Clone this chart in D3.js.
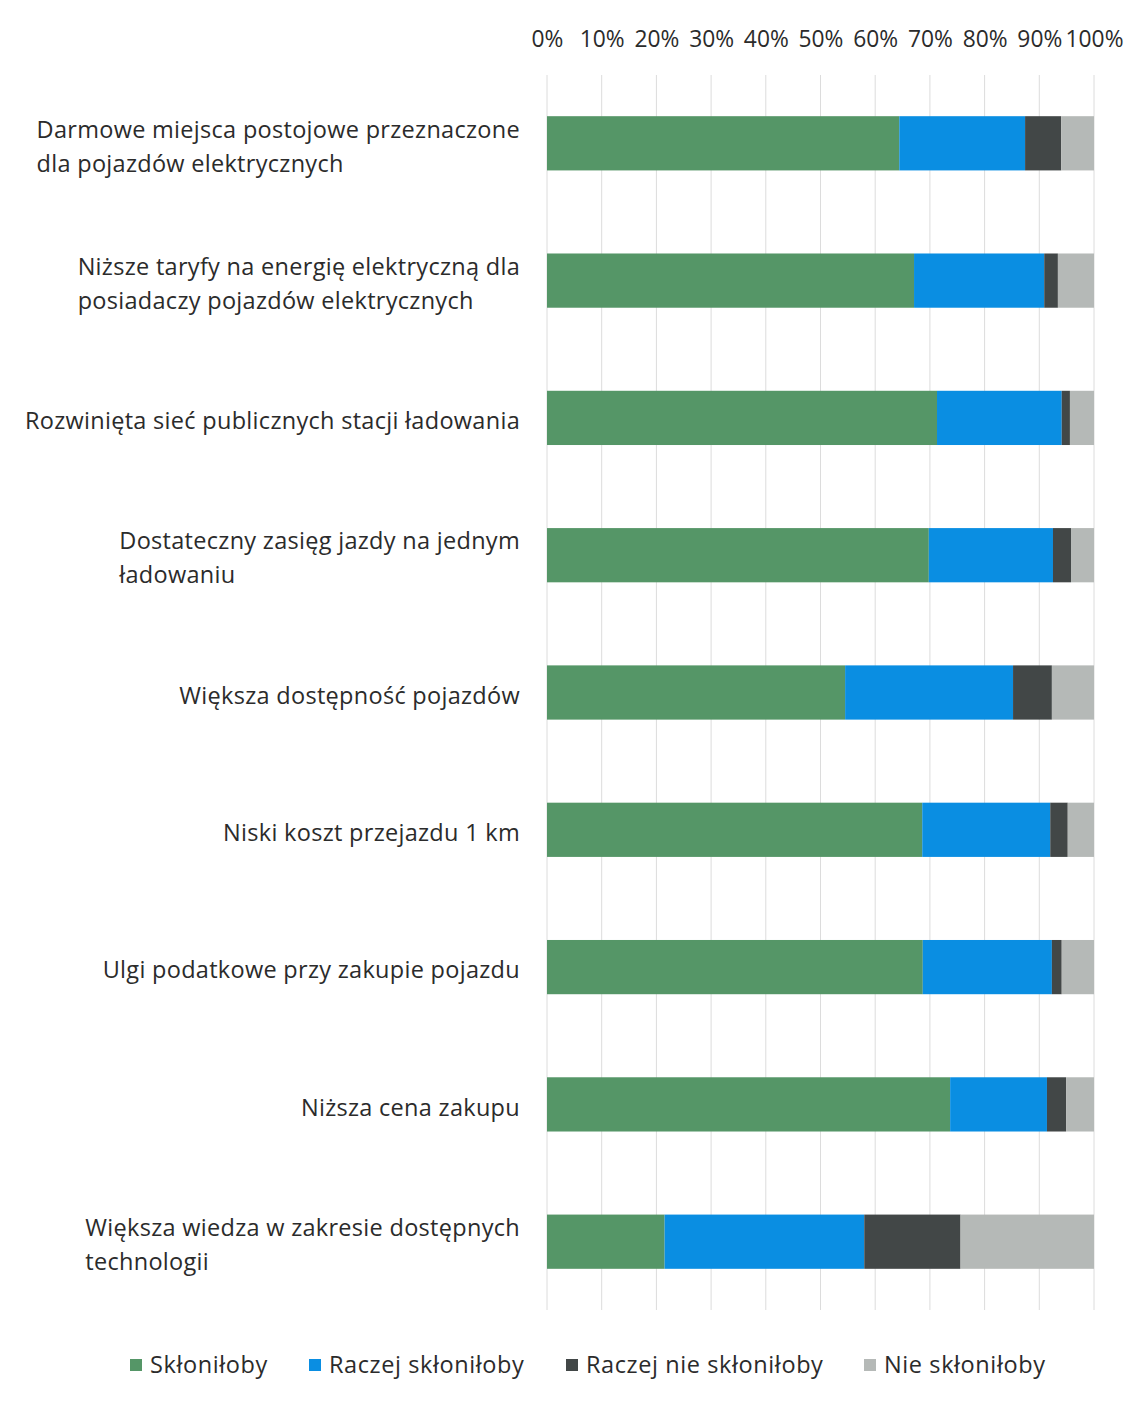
<!DOCTYPE html>
<html><head><meta charset="utf-8">
<script src="https://cdn.jsdelivr.net/npm/d3@7"></script>
<style>body{margin:0;background:#fff;} text{font-family:"Open Sans","Noto Sans",sans-serif;fill:#2b2b2b;}</style>
</head><body><svg id="c" width="1145" height="1402"></svg>
<script>
const categories = [
  ["Darmowe miejsca postojowe przeznaczone","dla pojazdów elektrycznych"],
  ["Niższe taryfy na energię elektryczną dla","posiadaczy pojazdów elektrycznych"],
  ["Rozwinięta sieć publicznych stacji ładowania"],
  ["Dostateczny zasięg jazdy na jednym","ładowaniu"],
  ["Większa dostępność pojazdów"],
  ["Niski koszt przejazdu 1 km"],
  ["Ulgi podatkowe przy zakupie pojazdu"],
  ["Niższa cena zakupu"],
  ["Większa wiedza w zakresie dostępnych","technologii"]
];
const seriesNames = ["Skłoniłoby","Raczej skłoniłoby","Raczej nie skłoniłoby","Nie skłoniłoby"];
const sklonilby      = [64.4, 67.1, 71.3, 69.8, 54.5, 68.6, 68.7, 73.7, 21.5];
const raczejSklonilby= [23.0, 23.8, 22.8, 22.7, 30.7, 23.4, 23.6, 17.7, 36.5];
const raczejNie      = [ 6.6,  2.5,  1.5,  3.3,  7.1,  3.2,  1.8,  3.5, 17.6];
const nie            = [ 6.0,  6.6,  4.4,  4.2,  7.7,  4.8,  5.9,  5.1, 24.4];
const tickValues = [0,10,20,30,40,50,60,70,80,90,100];
const colors = ["#559667","#0a8ee2","#424747","#b5b9b7"];

const svg = d3.select("#c");
const x = d3.scaleLinear().domain([0,100]).range([547,1094]);
const y = d3.scaleBand().domain(d3.range(categories.length)).range([75,1310]).paddingInner(0.605).paddingOuter(0.3);

// gridlines
svg.append("g").selectAll("line").data(tickValues).join("line")
  .attr("x1",d=>x(d)).attr("x2",d=>x(d)).attr("y1",75).attr("y2",1310)
  .attr("stroke","#dcdcdc").attr("stroke-width",1);

// axis labels
const ax = svg.append("g").attr("transform","translate(0,39)")
  .call(d3.axisTop(x).tickValues(tickValues).tickFormat(d=>d+"%").tickSize(0).tickPadding(0));
ax.select(".domain").remove();
ax.selectAll("text").attr("font-size",22.8).attr("dy","0.35em").attr("fill","#2b2b2b").attr("font-family","'Open Sans','Noto Sans',sans-serif");

// stacked bars
const stackData = categories.map((c,i)=>({i,0:sklonilby[i],1:raczejSklonilby[i],2:raczejNie[i],3:nie[i]}));
const stacks = d3.stack().keys([0,1,2,3])(stackData);
svg.append("g").selectAll("g").data(stacks).join("g").attr("fill",(d,k)=>colors[k])
  .selectAll("rect").data(d=>d).join("rect")
  .attr("x",d=>x(d[0])).attr("width",d=>x(d[1])-x(d[0]))
  .attr("y",d=>y(d.data.i)).attr("height",y.bandwidth());

// category labels
const lg = svg.append("g");
categories.forEach((lines,i)=>{
  const cy = y(i)+y.bandwidth()/2 + 3;
  const lh = 34;
  const g = lg.append("g");
  const ts = lines.map((l,j)=>g.append("text").attr("font-size",23.5).attr("letter-spacing",0.3)
    .attr("y",cy + (j-(lines.length-1)/2)*lh).attr("dy","0.35em").text(l));
  const w = d3.max(ts,t=>t.node().getComputedTextLength());
  ts.forEach(t=>t.attr("x",520-w));
});

// legend
const legendX = [130,309,566,864];
const leg = svg.append("g").attr("transform","translate(0,1365)");
seriesNames.forEach((n,k)=>{
  leg.append("rect").attr("x",legendX[k]).attr("y",-6).attr("width",12).attr("height",12).attr("fill",colors[k]);
  leg.append("text").attr("x",legendX[k]+20).attr("y",0).attr("dy","0.35em").attr("font-size",23.5).attr("letter-spacing",0.6).text(n);
});
</script></body></html>
